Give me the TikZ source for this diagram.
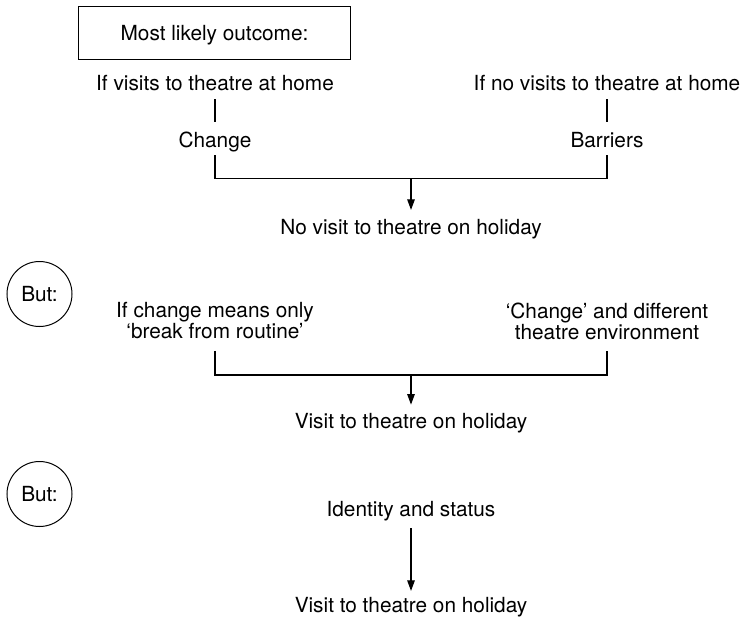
\documentclass[tikz,border=0pt]{standalone}
\usepackage{fontspec}
\setmainfont{TeX Gyre Heros}
\usetikzlibrary{arrows.meta}

\tikzset{
  txt/.style={font=\fontsize{20.8}{21}\selectfont},
  lbl/.style={txt, inner sep=0pt, text height=14.5pt, text depth=0pt, anchor=south},
  lbltwo/.style={txt, inner sep=0pt, align=center, anchor=north},
  titlebox/.style={txt, draw, line width=1pt, inner sep=0pt, text height=14.5pt, text depth=0pt,
    minimum width=272.4pt, minimum height=52.6pt},
  butcircle/.style={txt, draw, circle, line width=1pt, inner sep=0pt, text height=14.5pt,
    text depth=0pt, minimum size=65pt},
  conn/.style={line width=1.1pt},
  arr/.style={line width=1.1pt, -{Triangle[length=10.5pt,width=7.5pt]}}
}

\begin{document}
\begin{tikzpicture}[x=1pt,y=-1pt]
\useasboundingbox (0,0) rectangle (741,619);

% heading
\node[titlebox] (title) at (214.5,33) {Most likely outcome:};

% first branch: home habits
\node[lbl] (home)     at (215,91)    {If visits to theatre at home};
\node[lbl] (nohome)   at (607,91)    {If no visits to theatre at home};
\node[lbl] (change)   at (215,147.3) {Change};
\node[lbl] (barriers) at (607,147.3) {Barriers};
\node[lbl] (novisit)  at (411,234.3) {No visit to theatre on holiday};
\coordinate (m1) at (411,178.5);

\draw[conn] ([yshift=-8pt]home.south) -- ([yshift=10pt]change.north);
\draw[conn] ([yshift=-8pt]nohome.south) -- ([yshift=10pt]barriers.north);
\draw[conn] ([yshift=-8pt]change.south) |- (m1) -| ([yshift=-8pt]barriers.south);
\draw[arr] (m1) -- ([yshift=9.5pt]novisit.north);

% second branch
\node[butcircle] (but1) at (39.5,294) {But:};
\node[lbltwo] (routine)   at (215,302.5) {If change means only\\‘break from routine’};
\node[lbltwo] (different) at (607,302.5) {‘Change’ and different\\theatre environment};
\node[lbl] (visit2) at (411,429) {Visit to theatre on holiday};
\coordinate (m2) at (411,375);

\draw[conn] ([yshift=-11.5pt]routine.south) |- (m2) -| ([yshift=-11.5pt]different.south);
\draw[arr] (m2) -- ([yshift=9.5pt]visit2.north);

% third branch
\node[butcircle] (but2) at (39.5,494) {But:};
\node[lbl] (identity) at (411,517)   {Identity and status};
\node[lbl] (visit3)   at (411,612.8) {Visit to theatre on holiday};

\draw[arr] ([yshift=-11pt]identity.south) -- ([yshift=7pt]visit3.north);
\end{tikzpicture}
\end{document}
